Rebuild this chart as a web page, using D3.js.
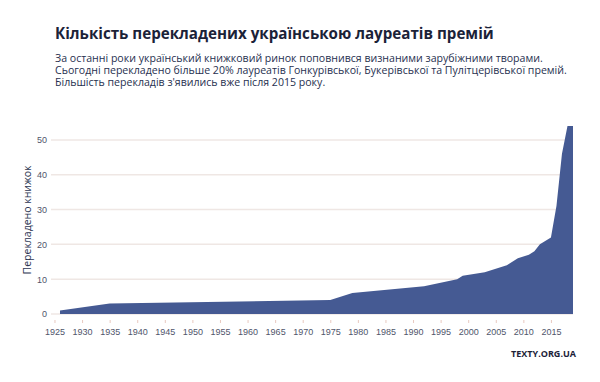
<!DOCTYPE html>
<html>
<head>
<meta charset="utf-8">
<script src="https://cdnjs.cloudflare.com/ajax/libs/d3/7.8.5/d3.min.js"></script>
<style>
  body { margin: 0; background: #fff; }
  svg { font-family: "Open Sans", sans-serif; }
  .tick text { fill: #4f556b; font-size: 9px; }
</style>
</head>
<body>
<script>
// cumulative number of translated laureates
const years  = [1926, 1935, 1975, 1979, 1992, 1998, 1999, 2003, 2007, 2009, 2011, 2012, 2013, 2015, 2016, 2017, 2018, 2019];
const values = [1,    3,    4,    6,    8,    10,   11,   12,   14,   16,   17,   18,   20,   22,   31,   46,   54,   54];
const yTicks = [0, 10, 20, 30, 40, 50];
const xTicks = d3.range(1925, 2016, 5);

const title = "Кількість перекладених українською лауреатів премій";
const subtitle = [
  "За останні роки український книжковий ринок поповнився визнаними зарубіжними творами.",
  "Сьогодні перекладено більше 20% лауреатів Гонкурівської, Букерівської та Пулітцерівської премій.",
  "Більшість перекладів з'явились вже після 2015 року."
];

const w = 600, h = 382;
const margin = { top: 126, left: 52, right: 27, bottom: 68 };

const data = years.map((y, i) => ({ year: y, value: values[i] }));

const svg = d3.select("body").append("svg")
  .attr("width", w)
  .attr("height", h);

// shrink a text's font size until it spans the wanted width
function fitWidth(sel, target) {
  const size = parseFloat(sel.style("font-size"));
  const len = sel.node().getComputedTextLength();
  sel.style("font-size", (size * target / len).toFixed(2) + "px");
}

const titleText = svg.append("text")
  .attr("x", 55).attr("y", 38.5)
  .style("font-size", "16px")
  .style("font-weight", "bold")
  .style("fill", "#1b2238")
  .text(title);
fitWidth(titleText, 439);

const sub = svg.append("g").selectAll("text")
  .data(subtitle)
  .enter().append("text")
    .attr("x", 55)
    .attr("y", (d, i) => 61.5 + i * 12)
    .style("font-size", "12px")
    .style("fill", "#27304f")
    .text(d => d);
// second line is the widest one
const subSize = 12 * 512 / sub.nodes()[1].getComputedTextLength();
sub.style("font-size", subSize.toFixed(2) + "px");

const x = d3.scaleLinear()
  .domain([1924.55, 2019])
  .range([margin.left, w - margin.right]);

const y = d3.scaleLinear()
  .domain([0, 54])
  .range([314, margin.top]);

// gridlines
svg.append("g").selectAll("line")
  .data(yTicks)
  .enter().append("line")
    .attr("x1", 51).attr("x2", w - margin.right)
    .attr("y1", d => y(d)).attr("y2", d => y(d))
    .style("stroke", "#efe7e4")
    .style("stroke-width", 1.5);

const area = d3.area()
  .x(d => x(d.year))
  .y0(y(0))
  .y1(d => y(d.value));

svg.append("path")
  .datum(data)
  .attr("d", area)
  .style("fill", "#455a93");

const yAxis = d3.axisLeft(y)
  .tickValues(yTicks)
  .tickSize(0)
  .tickPadding(4);

svg.append("g")
  .attr("transform", "translate(51,0)")
  .call(yAxis)
  .call(g => g.select(".domain").remove());

const xAxis = d3.axisBottom(x)
  .tickValues(xTicks)
  .tickFormat(d3.format("d"))
  .tickSize(3)
  .tickPadding(6);

svg.append("g")
  .attr("transform", "translate(0,320)")
  .call(xAxis)
  .call(g => g.select(".domain").remove())
  .call(g => g.selectAll("line").style("stroke", "#e8c9c0"));

const yLabel = svg.append("text")
  .attr("transform", "translate(31,220) rotate(-90)")
  .attr("text-anchor", "middle")
  .style("font-size", "12px")
  .style("fill", "#2c3552")
  .text("Перекладено книжок");
fitWidth(yLabel, 109);

const brand = svg.append("text")
  .attr("x", 576).attr("y", 357)
  .attr("text-anchor", "end")
  .style("font-size", "10px")
  .style("font-weight", "bold")
  .style("fill", "#1b2238")
  .text("TEXTY.ORG.UA");
fitWidth(brand, 65);
</script>
</body>
</html>
